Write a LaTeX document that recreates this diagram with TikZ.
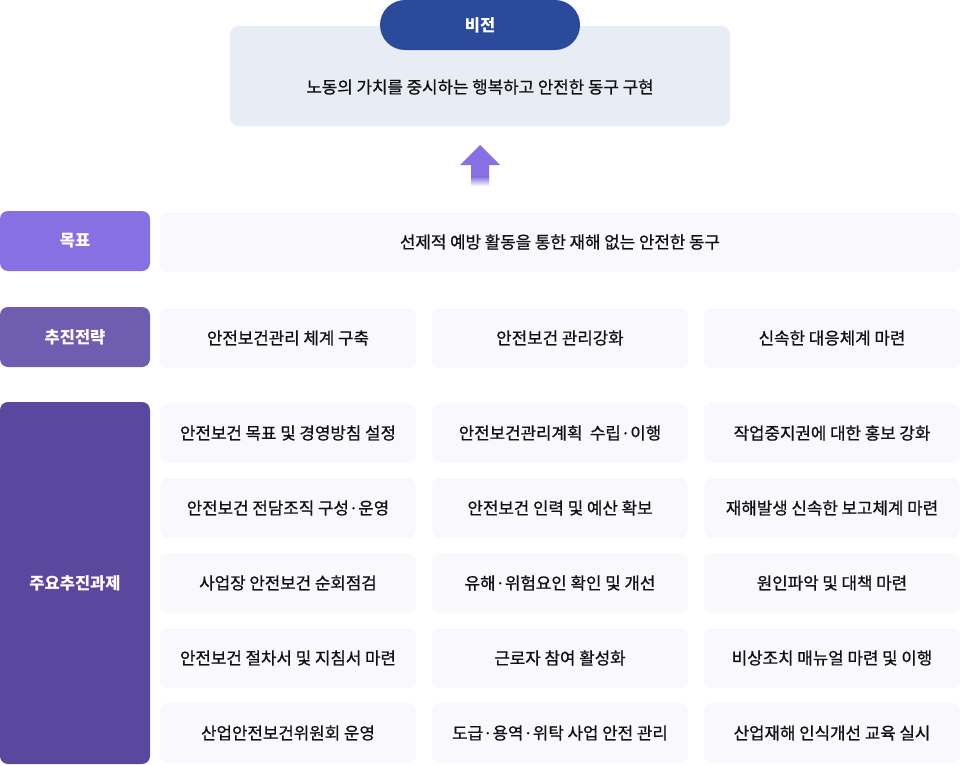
\documentclass[tikz,border=0pt]{standalone}
\usepackage{fontspec}
\newfontfamily\kr{Noto Sans CJK KR}
\newfontfamily\krm[FakeBold=0.8]{Noto Sans CJK KR}
\usetikzlibrary{positioning}
\definecolor{pillc}{HTML}{2B4A9B}
\definecolor{visc}{HTML}{E8ECF5}
\definecolor{goalc}{HTML}{8670E2}
\definecolor{stratc}{HTML}{6F5DB0}
\definecolor{taskc}{HTML}{5A489E}
\definecolor{cellc}{HTML}{F8F8FD}
\definecolor{txtc}{HTML}{111111}
\definecolor{arrc}{HTML}{8670E2}
\tikzset{
  cell/.style={fill=cellc, rounded corners=8pt, minimum width=256pt, minimum height=60pt, inner sep=0pt, text=txtc, font=\krm\fontsize{16.8}{20}\selectfont},
  label/.style={rounded corners=8pt, minimum width=150pt, inner sep=0pt, text=white, font=\kr\bfseries\fontsize{16.5}{20}\selectfont},
}
\begin{document}
\begin{tikzpicture}[x=1pt,y=-1pt]
\useasboundingbox (0,0) rectangle (960,764);
% vision
\node[fill=visc, rounded corners=8pt, minimum width=500pt, minimum height=100pt, inner sep=0pt] (visbox) at (480,76) {};
\node[fill=pillc, rounded corners=25pt, minimum width=200pt, minimum height=50pt, inner sep=0pt, text=white, font=\kr\bfseries\fontsize{16.5}{20}\selectfont] (pill) at (480,25) {비전};
\node[text=txtc, font=\krm\fontsize{16.8}{20}\selectfont] (vistext) at (480,87) {노동의 가치를 중시하는 행복하고 안전한 동구 구현};
% arrow
\coordinate (atip) at (480,145);
\fill[arrc] (atip) -- (500,165) -- (489,165) -- (489,177) -- (471,177) -- (471,165) -- (460,165) -- cycle;
\shade[top color=arrc, bottom color=white] (471,176.5) rectangle (489,186);
% row labels
\node[label, fill=goalc, minimum height=60pt] (goal) at (75,241) {목표};
\node[label, fill=stratc, minimum height=60pt] (strat) at (75,337) {추진전략};
\node[label, fill=taskc, minimum height=362pt] (task) at (75,583) {주요추진과제};
% goal cell
\node[cell, minimum width=800pt] (g1) at (560,242) {선제적 예방 활동을 통한 재해 없는 안전한 동구};
% strategy
\node[cell] (s1) at (288,338) {안전보건관리 체계 구축};
\node[cell] (s2) at (560,338) {안전보건 관리강화};
\node[cell] (s3) at (832,338) {신속한 대응체계 마련};
% tasks
\node[cell] (t11) at (288,433) {안전보건 목표 및 경영방침 설정};
\node[cell] (t12) at (560,433) {안전보건관리계획\ \ 수립·이행};
\node[cell] (t13) at (832,433) {작업중지권에 대한 홍보 강화};
\node[cell] (t21) at (288,508) {안전보건 전담조직 구성·운영};
\node[cell] (t22) at (560,508) {안전보건 인력 및 예산 확보};
\node[cell] (t23) at (832,508) {재해발생 신속한 보고체계 마련};
\node[cell] (t31) at (288,583) {사업장 안전보건 순회점검};
\node[cell] (t32) at (560,583) {유해·위험요인 확인 및 개선};
\node[cell] (t33) at (832,583) {원인파악 및 대책 마련};
\node[cell] (t41) at (288,658) {안전보건 절차서 및 지침서 마련};
\node[cell] (t42) at (560,658) {근로자 참여 활성화};
\node[cell] (t43) at (832,658) {비상조치 매뉴얼 마련 및 이행};
\node[cell] (t51) at (288,733) {산업안전보건위원회 운영};
\node[cell] (t52) at (560,733) {도급·용역·위탁 사업 안전 관리};
\node[cell] (t53) at (832,733) {산업재해 인식개선 교육 실시};
\end{tikzpicture}
\end{document}
